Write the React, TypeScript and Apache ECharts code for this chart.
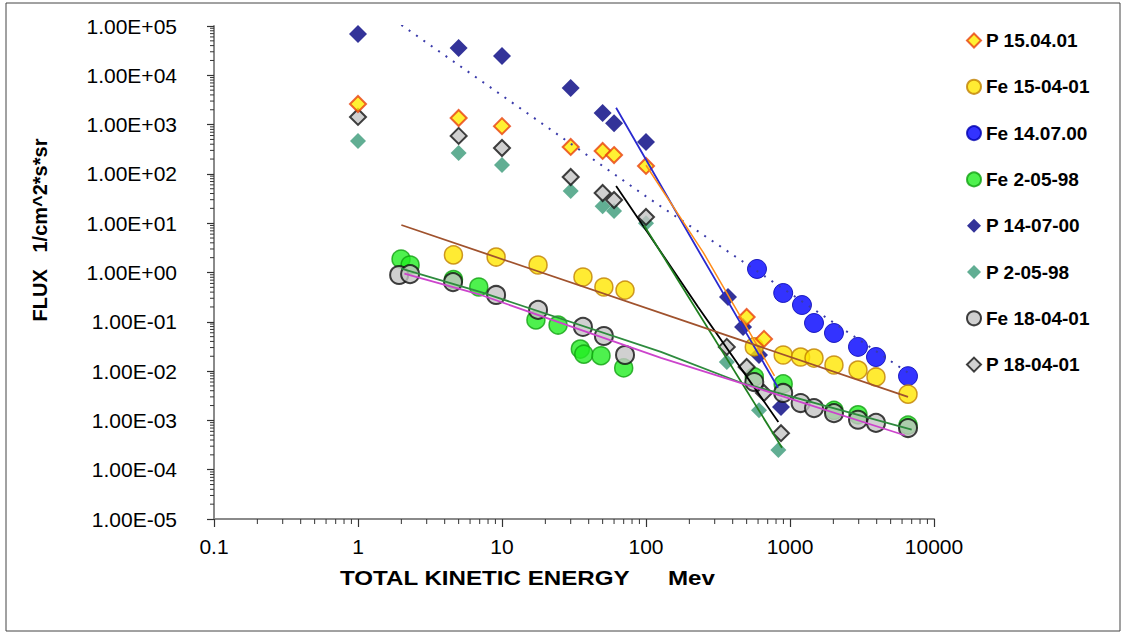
import React, { useEffect, useRef } from "react";
import * as echarts from "echarts";

type Pt = [number, number];

// ---- axis ticks ----
const xTickValues = [0.1, 1, 10, 100, 1000, 10000];
const xTickLabels = ["0.1", "1", "10", "100", "1000", "10000"];
const yTickExponents = [-5, -4, -3, -2, -1, 0, 1, 2, 3, 4, 5];
const yTickLabels = [
  "1.00E-05", "1.00E-04", "1.00E-03", "1.00E-02", "1.00E-01", "1.00E+00",
  "1.00E+01", "1.00E+02", "1.00E+03", "1.00E+04", "1.00E+05",
];
const minorMultipliers = [2, 3, 4, 5, 6, 7, 8, 9];

// ---- series names (legend order) ----
const legendNames = [
  "P 15.04.01", "Fe 15-04-01", "Fe 14.07.00", "Fe 2-05-98",
  "P 14-07-00", "P 2-05-98", "Fe 18-04-01", "P 18-04-01",
];

// ---- measured points [energy MeV, flux] ----
const p150401: Pt[] = [
  [1, 2620], [5, 1360], [10, 930], [30, 352], [50, 292], [60, 241], [100, 145],
  [500, 0.125], [660, 0.045],
];
const fe150401: Pt[] = [
  [4.6, 2.27], [9.1, 2.06], [17.8, 1.42], [36.5, 0.81], [51, 0.508], [71.5, 0.44],
  [565, 0.031], [897, 0.0212], [1185, 0.0193], [1468, 0.0184], [2020, 0.0133],
  [2966, 0.0105], [3955, 0.0076], [6600, 0.0034],
];
const fe140700: Pt[] = [
  [590, 1.18], [897, 0.384], [1211, 0.219], [1468, 0.0946], [2020, 0.0593],
  [2966, 0.031], [3955, 0.0193], [6600, 0.0079],
];
const fe20598: Pt[] = [
  [1.99, 1.88], [2.3, 1.42], [4.6, 0.72], [6.9, 0.508], [17.2, 0.109], [24.5, 0.086],
  [35, 0.028], [37, 0.022], [48.7, 0.0205], [70, 0.0116], [565, 0.0076],
  [897, 0.0055], [2020, 0.0016], [2966, 0.0013], [6600, 0.0008],
];
const p140700: Pt[] = [
  [1, 69000], [5, 35800], [10, 24600], [30, 5520], [50, 1720], [60, 1070], [100, 444],
  [371, 0.318], [472, 0.0785], [609, 0.0212], [866, 0.00186],
];
const p20598: Pt[] = [
  [1, 465], [5, 265], [10, 151], [30, 45], [50, 22], [60, 17.7], [100, 10],
  [364, 0.0153], [609, 0.0016], [830, 0.00025],
];
const fe180401: Pt[] = [
  [1.93, 0.89], [2.3, 0.93], [4.57, 0.64], [9.1, 0.35], [17.8, 0.174], [36.5, 0.0786],
  [51, 0.0515], [71.5, 0.0212], [565, 0.006], [897, 0.0036], [1185, 0.00225],
  [1468, 0.00178], [2020, 0.0014], [2966, 0.00103], [3955, 0.00089], [6600, 0.0007],
];
const p180401: Pt[] = [
  [1, 1430], [5, 590], [10, 335], [30, 86.5], [50, 41], [60, 29.5], [100, 13.4],
  [364, 0.031], [500, 0.0121], [660, 0.0036], [866, 0.00055],
];

// ---- trend lines ----
const trendNavyDotted: Pt[] = [[2, 105000], [100, 35], [6700, 0.009]];
const trendBlue: Pt[] = [[62, 2200], [215, 4], [826, 0.0046]];
const trendOrange: Pt[] = [[100, 150], [249, 2.6], [510, 0.07], [780, 0.008]];
const trendBlack: Pt[] = [[62, 57], [230, 0.2], [830, 0.00093]];
const trendDarkGreen: Pt[] = [[97, 9], [880, 0.00028]];
const trendBrown: Pt[] = [[2, 9.2], [6600, 0.003]];
const trendMagenta: Pt[] = [[2.1, 0.95], [7.14, 0.35], [127, 0.0185], [458, 0.0057], [6260, 0.0005]];
const trendGreen: Pt[] = [[2, 1.2], [7.14, 0.4], [127, 0.0245], [458, 0.0058], [7000, 0.00065]];

const FONT = "'Liberation Sans', Arial, Helvetica, sans-serif";
const X_MIN = 0.1;
const X_MAX = 10000;
const Y_MIN = 1e-5;
const Y_MAX = 1e5;

function minorValues(fromExp: number, toExp: number): number[] {
  const out: number[] = [];
  for (let e = fromExp; e < toExp; e++) {
    for (const m of minorMultipliers) out.push(m * Math.pow(10, e));
  }
  return out;
}

export default function App() {
  const ref = useRef<HTMLDivElement>(null);

  useEffect(() => {
    if (!ref.current) return;
    const chart = echarts.init(ref.current, undefined, { renderer: "svg" });

    const scatter = (name: string, data: Pt[], symbol: string, size: number, itemStyle: any) => ({
      name,
      type: "scatter",
      data,
      symbol,
      symbolSize: size,
      itemStyle,
      z: 2,
      clip: false,
      emphasis: { disabled: true },
    });
    const trend = (data: Pt[], color: string, width: number, type: any = "solid") => ({
      type: "line",
      data,
      symbol: "none",
      showSymbol: false,
      lineStyle: { color, width, type },
      z: 3,
      silent: true,
      emphasis: { disabled: true },
    });

    const minorX = minorValues(-1, 4).map((v) => [v, Y_MIN]);
    const minorY = minorValues(-5, 5).map((v) => [X_MIN, v]);

    const option: any = {
      animation: false,
      backgroundColor: "#ffffff",
      grid: { left: 214, right: 192, top: 26, bottom: 116 },
      xAxis: {
        type: "log",
        logBase: 10,
        min: X_MIN,
        max: X_MAX,
        interval: 1,
        axisLine: { show: true, lineStyle: { color: "#8a8a8a", width: 2 } },
        axisTick: { show: true, length: 8, lineStyle: { color: "#333", width: 1.2 } },
        axisLabel: {
          fontFamily: FONT,
          fontSize: 21,
          color: "#000",
          margin: 17,
          formatter: (v: number) => {
            const i = xTickValues.findIndex((t) => Math.abs(Math.log10(t) - Math.log10(v)) < 1e-6);
            return i >= 0 ? xTickLabels[i] : "";
          },
        },
        splitLine: { show: false },
      },
      yAxis: {
        type: "log",
        logBase: 10,
        min: Y_MIN,
        max: Y_MAX,
        interval: 1,
        axisLine: { show: true, lineStyle: { color: "#8a8a8a", width: 2 } },
        axisTick: { show: true, length: 7, lineStyle: { color: "#333", width: 1.2 } },
        axisLabel: {
          fontFamily: FONT,
          fontSize: 21,
          color: "#000",
          margin: 37,
          formatter: (v: number) => {
            const e = Math.round(Math.log10(v));
            const i = yTickExponents.indexOf(e);
            return i >= 0 ? yTickLabels[i] : "";
          },
        },
        splitLine: { show: false },
      },
      legend: {
        data: legendNames,
        orient: "vertical",
        left: 966,
        top: 31,
        itemWidth: 14,
        itemHeight: 14,
        itemGap: 27.3,
        padding: 0,
        selectedMode: false,
        textStyle: { fontFamily: FONT, fontSize: 19, fontWeight: "bold", color: "#000", lineHeight: 18 },
      },
      graphic: [
        {
          type: "rect",
          shape: { x: 6, y: 3, width: 1114, height: 628 },
          style: { fill: "none", stroke: "#444", lineWidth: 1 },
          silent: true,
        },
        {
          type: "text",
          x: 340,
          y: 578,
          scaleX: 1.15,
          style: {
            text: "TOTAL KINETIC ENERGY",
            font: `bold 21px ${FONT}`,
            fill: "#000",
            verticalAlign: "middle",
          },
          silent: true,
        },
        {
          type: "text",
          x: 668,
          y: 578,
          scaleX: 1.15,
          style: {
            text: "Mev",
            font: `bold 21px ${FONT}`,
            fill: "#000",
            verticalAlign: "middle",
          },
          silent: true,
        },
        {
          type: "text",
          x: 40,
          y: 230,
          rotation: Math.PI / 2,
          style: {
            text: "FLUX   1/cm^2*s*sr",
            font: `bold 20px ${FONT}`,
            fill: "#000",
            align: "center",
            verticalAlign: "middle",
          },
          silent: true,
        },
      ],
      series: [
        {
          type: "custom",
          silent: true,
          data: minorX,
          clip: false,
          renderItem: (_p: any, api: any) => {
            const pt = api.coord([api.value(0), api.value(1)]);
            return {
              type: "line",
              shape: { x1: pt[0], y1: pt[1], x2: pt[0], y2: pt[1] + 5 },
              style: { stroke: "#333", lineWidth: 1 },
            };
          },
        },
        {
          type: "custom",
          silent: true,
          data: minorY,
          clip: false,
          renderItem: (_p: any, api: any) => {
            const pt = api.coord([api.value(0), api.value(1)]);
            return {
              type: "line",
              shape: { x1: pt[0] - 4, y1: pt[1], x2: pt[0], y2: pt[1] },
              style: { stroke: "#333", lineWidth: 1 },
            };
          },
        },
        scatter("Fe 14.07.00", fe140700, "circle", 19, { color: "#0000ff", borderColor: "#0000b0", borderWidth: 1 }),
        scatter("P 14-07-00", p140700, "diamond", 18, { color: "#000080" }),
        scatter("P 2-05-98", p20598, "diamond", 16, { color: "#3a9a78" }),
        scatter("Fe 2-05-98", fe20598, "circle", 18, { color: "#22ee22", borderColor: "#10a010", borderWidth: 1.5 }),
        scatter("Fe 15-04-01", fe150401, "circle", 18, { color: "#ffe600", borderColor: "#c08000", borderWidth: 1.5 }),
        scatter("Fe 18-04-01", fe180401, "circle", 18, { color: "#c4c4c4", borderColor: "#111111", borderWidth: 2 }),
        scatter("P 18-04-01", p180401, "diamond", 16, { color: "#c4c4c4", borderColor: "#111111", borderWidth: 2 }),
        scatter("P 15.04.01", p150401, "diamond", 16, { color: "#ffee00", borderColor: "#e8400c", borderWidth: 2 }),
        trend(trendNavyDotted, "#3a3aaa", 2, [2, 7]),
        trend(trendBlue, "#2a2ad0", 1.8),
        trend(trendOrange, "#ff8c1a", 1.5),
        trend(trendBlack, "#000000", 1.8),
        trend(trendDarkGreen, "#1f7f1f", 1.8),
        trend(trendBrown, "#a0522d", 1.8),
        trend(trendGreen, "#2e8b3e", 1.8),
        trend(trendMagenta, "#cc44cc", 1.8),
      ],
    };

    chart.setOption(option);
    return () => chart.dispose();
  }, []);

  return (
    <div
      ref={ref}
      style={{ position: "absolute", left: 0, top: 0, width: 1126, height: 635, background: "#fff" }}
    />
  );
}
